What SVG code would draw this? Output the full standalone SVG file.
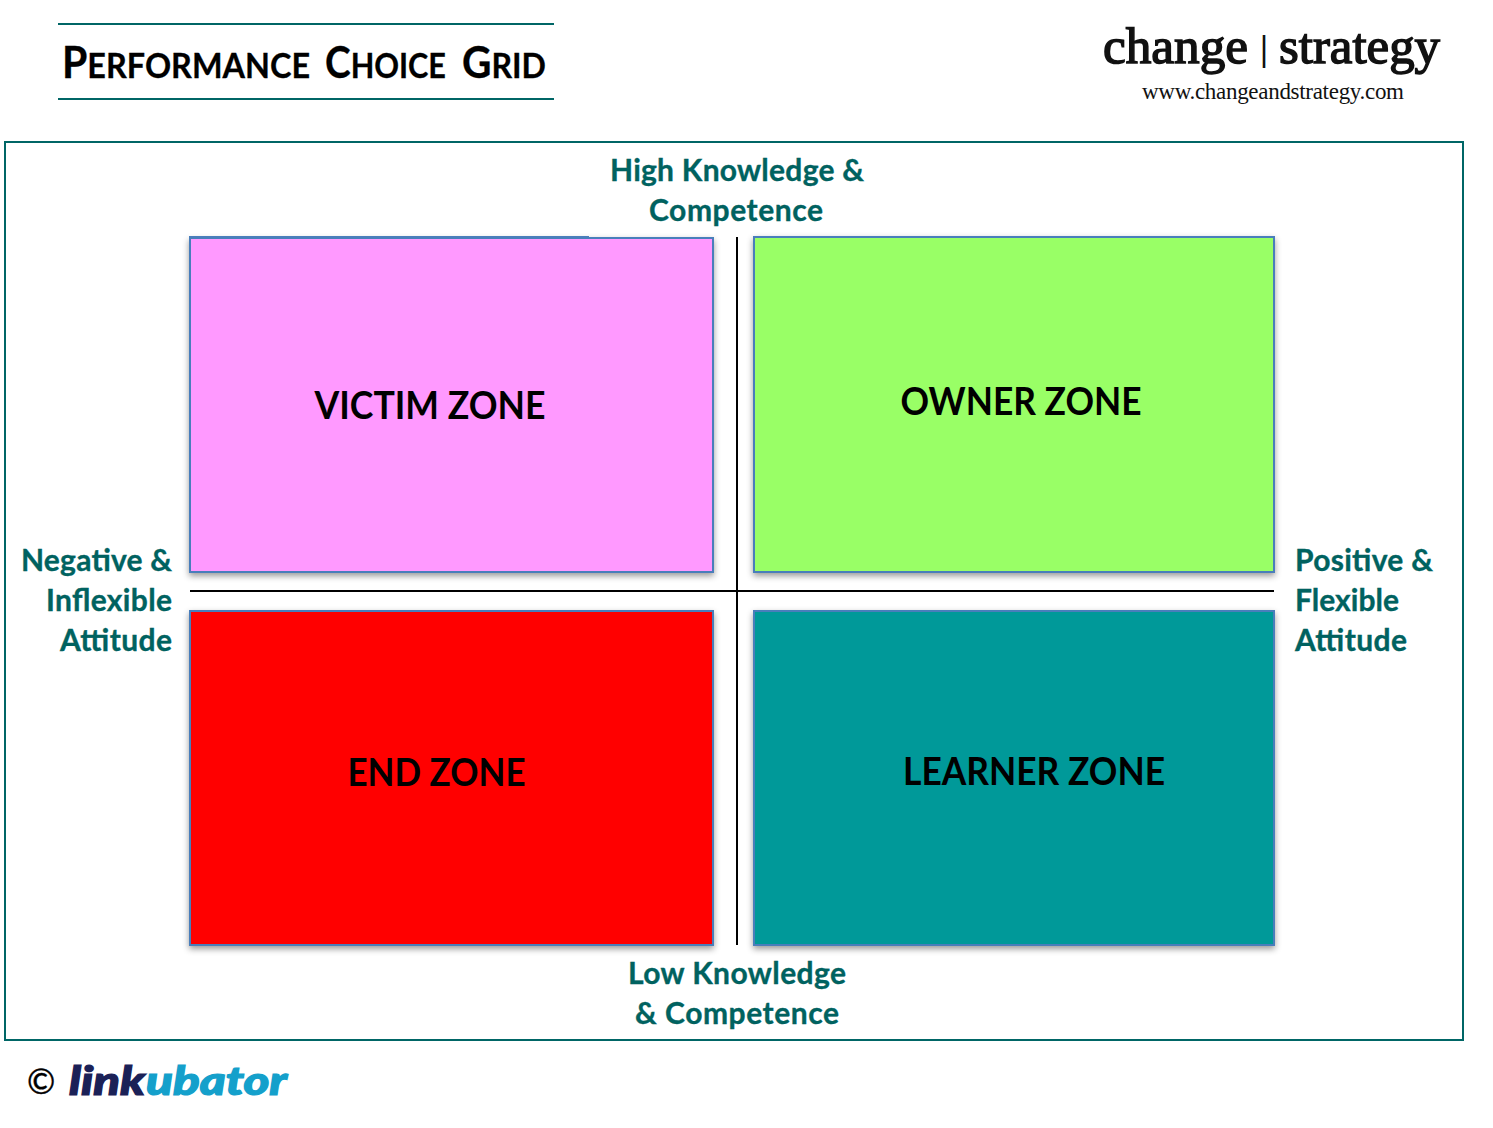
<svg xmlns="http://www.w3.org/2000/svg" width="1493" height="1128" viewBox="0 0 1493 1128">
<defs>
<filter id="sh" x="-5%" y="-5%" width="110%" height="110%"><feDropShadow dx="0" dy="3" stdDeviation="3" flood-color="#000" flood-opacity="0.4"/></filter>
</defs>
<style>
text{font-family:Lato,"Liberation Sans",sans-serif}
.axis{font-size:30px;font-weight:700;fill:#006260;stroke:#006260;stroke-width:.35}
.zone{font-size:39px;font-weight:700;fill:#000;text-anchor:middle}
.box{stroke:#4a7ebb;stroke-width:2;filter:url(#sh)}
.rule{stroke:#006666;stroke-width:2;fill:none}
.ax{stroke:#000;stroke-width:2;fill:none}
.m{text-anchor:middle}
.serif{font-family:"Liberation Serif",serif;fill:#111}
.brandname{font-size:51px;stroke:#111;stroke-width:1.5px}
.ttl{font-weight:700;font-size:43px;fill:#000;stroke:#000;stroke-width:.3}
.ttl tspan{font-size:34px}
.logo{font-size:39px;font-weight:900;font-style:italic;stroke-width:1.2}
</style>
<rect width="1493" height="1128" fill="#fff"/>
<g id="title">
<line class="rule" x1="58" y1="24" x2="554" y2="24"/>
<line class="rule" x1="58" y1="99" x2="554" y2="99"/>
<text class="ttl" x="62" y="78" textLength="248" lengthAdjust="spacingAndGlyphs">P<tspan>ERFORMANCE</tspan></text>
<text class="ttl" x="325" y="78" textLength="121" lengthAdjust="spacingAndGlyphs">C<tspan>HOICE</tspan></text>
<text class="ttl" x="462" y="78" textLength="84" lengthAdjust="spacingAndGlyphs">G<tspan>RID</tspan></text>
</g>
<g id="brand">
<text class="serif brandname" x="1103" y="63" textLength="145" lengthAdjust="spacingAndGlyphs">change</text>
<text class="serif" x="1260" y="60" font-size="36" font-weight="700" textLength="8" lengthAdjust="spacingAndGlyphs">|</text>
<text class="serif brandname" x="1279" y="63" textLength="161" lengthAdjust="spacingAndGlyphs">strategy</text>
<text class="serif" x="1142" y="99" font-size="23" textLength="262">www.changeandstrategy.com</text>
</g>
<rect id="frame" class="rule" x="5" y="142" width="1458" height="898"/>
<g id="connectors">
<line class="ax" x1="737" y1="237" x2="737" y2="945"/>
<line class="ax" x1="190" y1="591" x2="1274" y2="591"/>
</g>
<g id="victim"><rect class="box" x="190" y="238" width="523" height="334" fill="#ff99ff"/><rect x="189" y="236" width="400" height="2" fill="#4a7ebb"/><text class="zone" x="430" y="419" textLength="231" lengthAdjust="spacingAndGlyphs">VICTIM ZONE</text></g>
<g id="owner"><rect class="box" x="754" y="237" width="520" height="335" fill="#99ff66"/><text class="zone" x="1021" y="415" textLength="241" lengthAdjust="spacingAndGlyphs">OWNER ZONE</text></g>
<g id="end"><rect class="box" x="190" y="611" width="523" height="334" fill="#ff0000"/><text class="zone" x="436.500" y="786" textLength="178" lengthAdjust="spacingAndGlyphs">END ZONE</text></g>
<g id="learner"><rect class="box" x="754" y="611" width="520" height="334" fill="#009999"/><text class="zone" x="1034" y="785" textLength="262" lengthAdjust="spacingAndGlyphs">LEARNER ZONE</text></g>
<g id="axis-top"><text class="axis m" x="737" y="181" textLength="254">High Knowledge &amp;</text><text class="axis m" x="736" y="221" textLength="174">Competence</text></g>
<g id="axis-bottom"><text class="axis m" x="737" y="984" textLength="218">Low Knowledge</text><text class="axis m" x="737" y="1024" textLength="204">&amp; Competence</text></g>
<g id="axis-left"><text class="axis" x="21" y="571" textLength="151">Negative &amp;</text><text class="axis" x="46" y="611" textLength="126">Inflexible</text><text class="axis" x="60" y="651" textLength="112">Attitude</text></g>
<g id="axis-right"><text class="axis" x="1295" y="571" textLength="138">Positive &amp;</text><text class="axis" x="1295" y="611" textLength="104">Flexible</text><text class="axis" x="1295" y="651" textLength="112">Attitude</text></g>
<g id="credit">
<text x="27" y="1094" font-size="34" fill="#000" stroke="#000" stroke-width=".4" font-family="Liberation Sans">©</text>
<text class="logo" x="69" y="1095" fill="#1b2157" stroke="#1b2157" textLength="76" lengthAdjust="spacingAndGlyphs">link</text>
<text class="logo" x="146" y="1095" fill="#14a0cb" stroke="#14a0cb" textLength="141" lengthAdjust="spacingAndGlyphs">ubator</text>
</g>
</svg>
